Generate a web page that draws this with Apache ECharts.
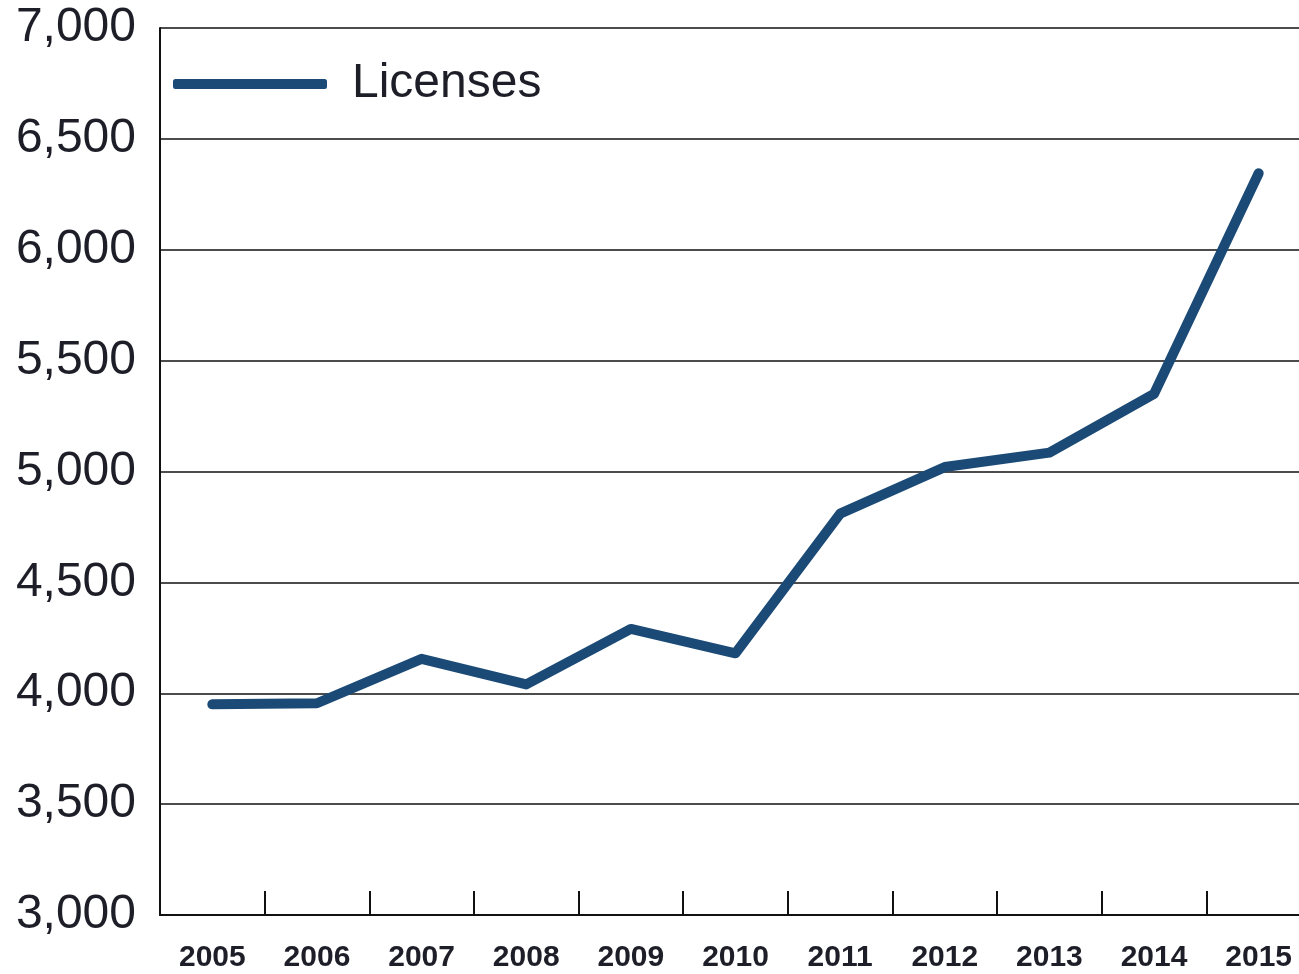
<!DOCTYPE html>
<html>
<head>
<meta charset="utf-8">
<script src="https://cdn.jsdelivr.net/npm/echarts@6/dist/echarts.min.js"></script>
<style>html,body{margin:0;padding:0;background:#fff;overflow:hidden;}#c{width:1311px;height:974px;}</style>
</head>
<body>
<div id="c"></div>
<script>
const years = ['2005','2006','2007','2008','2009','2010','2011','2012','2013','2014','2015'];
const licenses = [3950, 3955, 4155, 4040, 4290, 4180, 4810, 5020, 5085, 5350, 6345];
const yMin = 3000, yMax = 7000, yStep = 500;
const FONT = 'Liberation Sans, Arial, sans-serif';

const chart = echarts.init(document.getElementById('c'), null, {renderer: 'canvas'});
chart.setOption({
  animation: false,
  backgroundColor: '#ffffff',
  textStyle: {fontFamily: FONT},
  grid: {left: 160, top: 28, right: 0, bottom: 59, containLabel: false},
  legend: {
    left: 168, top: 55,
    icon: 'roundRect',
    itemWidth: 154, itemHeight: 10, itemGap: 10,
    textStyle: {fontSize: 48, color: '#1e1e28', fontFamily: FONT, padding: [0,0,0,20]},
    data: ['Licenses']
  },
  xAxis: {
    type: 'category',
    data: years,
    boundaryGap: true,
    axisLine: {show: true, lineStyle: {color: '#111', width: 2}},
    axisTick: {show: true, inside: true, length: 24, lineStyle: {color: '#111', width: 2}},
    axisLabel: {fontSize: 30, fontWeight: 'bold', color: '#1e1e28', margin: 28, fontFamily: FONT}
  },
  yAxis: {
    type: 'value',
    min: yMin, max: yMax, interval: yStep,
    axisLine: {show: true, lineStyle: {color: '#111', width: 2}},
    axisTick: {show: false},
    splitLine: {show: true, lineStyle: {color: '#111', width: 1.5}},
    axisLabel: {fontSize: 48, color: '#1e1e28', margin: 24, fontFamily: FONT,
      formatter: v => v.toLocaleString('en-US')}
  },
  series: [{
    name: 'Licenses',
    type: 'line',
    data: licenses,
    showSymbol: false,
    symbol: 'none',
    color: '#1b4a76',
    lineStyle: {color: '#1b4a76', width: 10, cap: 'round', join: 'round'}
  }]
});
</script>
</body>
</html>
